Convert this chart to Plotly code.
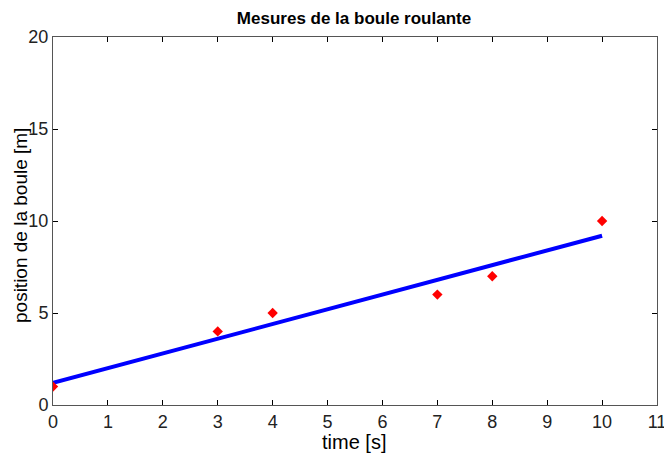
import plotly.graph_objects as go

time_s = [0, 3, 4, 7, 8, 10]
position_m = [1, 4, 5, 6, 7, 10]
fit_x = [0, 10]
fit_y = [1.2, 9.2]
x_ticks = list(range(0, 12))
y_ticks = [0, 5, 10, 15, 20]

# page body adds an 8px offset; compensate
W, H = 664, 445
ML, MR, MT, MB = 45, 15, 29, 48
PW, PH = W - ML - MR, H - MT - MB

fig = go.Figure()
fig.add_trace(go.Scatter(x=fit_x, y=fit_y, mode="lines",
                         line=dict(color="#0000ff", width=4), showlegend=False))
fig.add_trace(go.Scatter(x=time_s, y=position_m, mode="markers",
                         marker=dict(color="#ff0000", symbol="diamond", size=8),
                         showlegend=False))

axis_common = dict(showgrid=False, zeroline=False, showline=True, linecolor="#555555",
                   linewidth=1, mirror="ticks", ticks="inside", ticklen=5,
                   tickcolor="#000000", automargin=False,
                   tickfont=dict(family="Liberation Sans Narrow, Arial, sans-serif", size=18, color="#222222"))

title_font = dict(family="Liberation Sans, Arial, sans-serif", size=20, color="#000000")

fig.update_layout(
    width=W, height=H,
    margin=dict(l=ML, r=MR, t=MT, b=MB),
    paper_bgcolor="white", plot_bgcolor="white",
    title=dict(text="<b>Mesures de la boule roulante</b>", x=346 / W, xanchor="center",
               y=1 - 10 / H, yanchor="middle",
               font=dict(family="Liberation Sans, Arial, sans-serif", size=17, color="#000000")),
    xaxis=dict(range=[0, 11], tickvals=x_ticks, ticktext=[str(v) for v in x_ticks],
               **axis_common),
    yaxis=dict(range=[0, 20], tickvals=y_ticks, ticktext=[str(v) for v in y_ticks],
               **axis_common),
    annotations=[
        dict(text="time [s]", xref="paper", yref="paper",
             x=(346 - ML) / PW, y=-(434 - (H - MB)) / PH,
             xanchor="center", yanchor="middle", showarrow=False, font=title_font),
        dict(text="position de la boule [m]", xref="paper", yref="paper",
             x=(12 - ML) / PW, y=1 - (218 - MT) / PH, textangle=-90,
             xanchor="center", yanchor="middle", showarrow=False,
             font=dict(family="Liberation Sans, Arial, sans-serif", size=19, color="#000000")),
    ],
)

fig.write_html("out.html")
